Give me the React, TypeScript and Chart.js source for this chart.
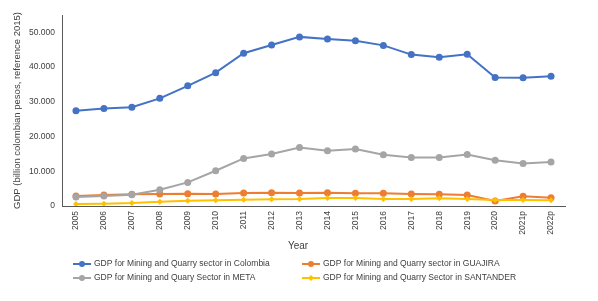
import React, { useEffect, useRef } from "react";
import { Chart, registerables } from "chart.js";

Chart.register(...registerables);

const years = ["2005","2006","2007","2008","2009","2010","2011","2012","2013","2014","2015","2016","2017","2018","2019","2020","2021p","2022p"];
const colombia = [27400,28100,28450,31000,34600,38400,44000,46350,48700,48100,47600,46250,43600,42800,43700,37000,36900,37350];
const guajira = [2870,3160,3350,3450,3550,3450,3740,3830,3740,3830,3640,3640,3450,3350,3160,1440,2780,2400];
const meta = [2590,2870,3250,4690,6800,10150,13700,14950,16850,15900,16400,14750,14000,14000,14850,13200,12250,12700];
const santander = [580,670,860,1250,1540,1640,1830,1920,2000,2300,2300,2000,2000,2200,2000,1730,1730,1640];
const yTicks = [0, 10000, 20000, 30000, 40000, 50000];

const labels = [
  "GDP for Mining and Quarry sector in Colombia",
  "GDP for Mining and Quarry sector in GUAJIRA",
  "GDP for Mining and Quary Sector in META",
  "GDP for Mining and Quarry Sector in SANTANDER",
];
const colors = ["#4472C4", "#ED7D31", "#A5A5A5", "#FFC000"];
const FONT = "'Liberation Sans', Arial, sans-serif";
const TEXT = "#404040";

const fmt = (v: number) => String(Math.round(v)).replace(/\B(?=(\d{3})+(?!\d))/g, ".");

export default function App() {
  const ref = useRef<HTMLCanvasElement | null>(null);
  useEffect(() => {
    document.body.style.margin = "0";
    const seriesData = [colombia, guajira, meta, santander];
    const styles = ["circle", "circle", "circle", "rectRot"];
    const radii = [3.5, 3.5, 3.5, 3];
    const legendPlugin = {
      id: "customLegend",
      afterDraw(chart: any) {
        const ctx = chart.ctx;
        ctx.save();
        ctx.fillStyle = TEXT;
        ctx.font = `10px ${FONT}`;
        ctx.textAlign = "center";
        ctx.textBaseline = "middle";
        ctx.fillText("Year", 298, 246);
        const pos = [
          [73, 264], [302, 264], [73, 278], [302, 278],
        ];
        chart.data.datasets.forEach((ds: any, i: number) => {
          const [x, y] = pos[i];
          ctx.strokeStyle = ds.borderColor;
          ctx.lineWidth = 2;
          ctx.beginPath();
          ctx.moveTo(x, y);
          ctx.lineTo(x + 18, y);
          ctx.stroke();
          ctx.fillStyle = ds.borderColor;
          ctx.beginPath();
          if (ds.pointStyle === "rectRot") {
            ctx.moveTo(x + 9, y - 3);
            ctx.lineTo(x + 12, y);
            ctx.lineTo(x + 9, y + 3);
            ctx.lineTo(x + 6, y);
            ctx.closePath();
          } else {
            ctx.arc(x + 9, y, 3, 0, Math.PI * 2);
          }
          ctx.fill();
          ctx.fillStyle = TEXT;
          ctx.font = `8.5px ${FONT}`;
          ctx.textAlign = "left";
          ctx.fillText(ds.label, x + 21, y);
        });
        ctx.restore();
      },
    };
    const chart = new Chart(ref.current as HTMLCanvasElement, {
      type: "line",
      data: {
        labels: years,
        datasets: seriesData.map((d, i) => ({
          label: labels[i],
          data: d,
          borderColor: colors[i],
          backgroundColor: colors[i],
          pointBackgroundColor: colors[i],
          pointBorderWidth: 0,
          pointRadius: radii[i],
          pointStyle: styles[i] as any,
          borderWidth: 2,
          tension: 0,
          order: 3 - i,
        })),
      },
      options: {
        responsive: false,
        animation: false,
        layout: { padding: { top: 15, right: 33, bottom: 0, left: 0 } },
        plugins: { legend: { display: false }, tooltip: { enabled: false } },
        scales: {
          x: {
            offset: true,
            grid: { display: false, drawTicks: false },
            border: { display: true, color: "#595959", width: 1 },
            ticks: {
              minRotation: 90,
              maxRotation: 90,
              padding: 5,
              color: TEXT,
              font: { family: FONT, size: 8.5 },
              autoSkip: false,
            },
            afterFit: (s: any) => { s.height = 95; },
          },
          y: {
            min: 0,
            max: 55000,
            grid: { display: false, drawTicks: false },
            border: { display: true, color: "#595959", width: 1 },
            afterBuildTicks: (s: any) => { s.ticks = yTicks.map((v) => ({ value: v })); },
            ticks: {
              padding: 7,
              autoSkip: false,
              color: TEXT,
              font: { family: FONT, size: 8.5 },
              callback: (v: any) => fmt(Number(v)),
            },
            title: {
              display: true,
              text: "GDP (billion colombian pesos, reference 2015)",
              color: TEXT,
              font: { family: FONT, size: 9.5 },
              padding: { top: 12, bottom: 0 },
            },
            afterFit: (s: any) => { s.width = 62; },
          },
        },
      },
      plugins: [legendPlugin],
    });
    return () => chart.destroy();
  }, []);
  return (
    <div style={{ width: 598, height: 301, background: "#fff" }}>
      <canvas ref={ref} width={598} height={301} style={{ display: "block" }} />
    </div>
  );
}
